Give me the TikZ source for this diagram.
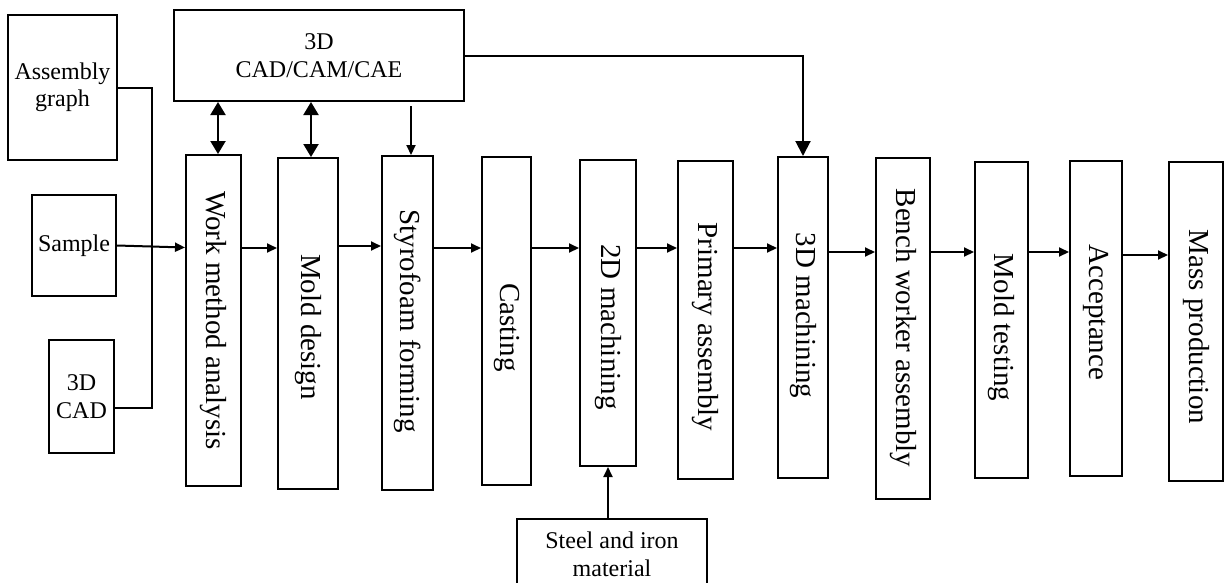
\documentclass[tikz,border=0pt]{standalone}
\usepackage{fontspec}
\setmainfont{Liberation Serif}
\usetikzlibrary{arrows.meta}
\begin{document}
\begin{tikzpicture}[x=1pt,y=-1pt,
  box/.style={draw, line width=2pt, inner sep=0pt, align=center, font=\fontsize{24}{27.5}\selectfont},
  vbox/.style={draw, line width=2pt, inner sep=0pt},
  vtext/.style={inner sep=0pt, font=\fontsize{29}{34}\selectfont},
  conn/.style={line width=2pt},
  arr/.style={line width=2pt, -{Triangle[length=10pt,width=9pt]}},
  bigarr/.style={line width=2pt, -{Triangle[length=15pt,width=15pt]}},
  dblarr/.style={line width=2.2pt, {Triangle[length=13pt,width=15pt]}-{Triangle[length=13pt,width=15pt]}}
]
\path[use as bounding box] (0,0) rectangle (1224,582);
\clip (0,0) rectangle (1224,582);

% left inputs
\node[box, minimum width=109pt, minimum height=145pt] (asm) at (62.5,87.5) {Assembly\\graph};
\node[box, minimum width=84pt, minimum height=101pt] (smp) at (74,245.5) {Sample};
\node[box, minimum width=65pt, minimum height=113pt] (cad) at (81.5,396.5) {3D\\CAD};
\node[box, minimum width=290pt, minimum height=91pt] (cae) at (319,55.5) {3D\\CAD/CAM/CAE};
\node[box, minimum width=190pt, minimum height=71pt] (steel) at (612,554.5) {Steel and iron\\material};

% process steps (boxes)
\node[vbox, minimum width=55pt, minimum height=331pt] (work) at (213.5,320.5) {};
\node[vbox, minimum width=60pt, minimum height=331pt] (mold) at (308,323.5) {};
\node[vbox, minimum width=51pt, minimum height=334pt] (styro) at (407.5,323) {};
\node[vbox, minimum width=49pt, minimum height=328pt] (cast) at (506.5,321) {};
\node[vbox, minimum width=56pt, minimum height=306pt] (m2d) at (608,313) {};
\node[vbox, minimum width=55pt, minimum height=318pt] (prim) at (705.5,320) {};
\node[vbox, minimum width=50pt, minimum height=321pt] (m3d) at (803,317.5) {};
\node[vbox, minimum width=54pt, minimum height=341pt] (bench) at (903,328.5) {};
\node[vbox, minimum width=53pt, minimum height=316pt] (mtest) at (1001.5,320) {};
\node[vbox, minimum width=52pt, minimum height=315pt] (acc) at (1096,318.5) {};
\node[vbox, minimum width=54pt, minimum height=319pt] (mass) at (1196,321.5) {};

% process steps (texts)
\node[vtext] (workt) at (213.5,320.5) {\rotatebox{-90}{Work method analysis}};
\node[vtext] (moldt) at (308,327) {\rotatebox{-90}{Mold design}};
\node[vtext] (styrot) at (407.5,321) {\rotatebox{-90}{Styrofoam forming}};
\node[vtext] (castt) at (506.5,327.5) {\rotatebox{-90}{Casting}};
\node[vtext] (m2dt) at (608,327) {\rotatebox{-90}{2D machining}};
\node[vtext] (primt) at (705.5,327) {\rotatebox{-90}{Primary assembly}};
\node[vtext] (m3dt) at (803,315.5) {\rotatebox{-90}{3D machining}};
\node[vtext] (bencht) at (903,328) {\rotatebox{-90}{Bench worker assembly}};
\node[vtext] (mtestt) at (1001.5,327.5) {\rotatebox{-90}{Mold testing}};
\node[vtext] (acct) at (1096,312.5) {\rotatebox{-90}{Acceptance}};
\node[vtext] (masst) at (1196,327) {\rotatebox{-90}{Mass production}};

% row coordinates
\coordinate (r1) at (0,248);
\coordinate (r2) at (0,246);
\coordinate (r3) at (0,252);
\coordinate (r4) at (0,255);

% left connector (assembly graph / 3D CAD)
\draw[conn] (asm.east) -- ++(34,0) |- ([yshift=-11.5pt]cad.east);
\draw[arr] (smp.east) -- ([yshift=-2pt]smp.east -| work.west);

% main flow
\draw[arr] (work.east |- r1) -- (mold.west |- r1);
\draw[arr] (mold.east |- r2) -- (styro.west |- r2);
\draw[arr] (styro.east |- r1) -- (cast.west |- r1);
\draw[arr] (cast.east |- r1) -- (m2d.west |- r1);
\draw[arr] (m2d.east |- r1) -- (prim.west |- r1);
\draw[arr] (prim.east |- r1) -- (m3d.west |- r1);
\draw[arr] (m3d.east |- r3) -- (bench.west |- r3);
\draw[arr] (bench.east |- r3) -- (mtest.west |- r3);
\draw[arr] (mtest.east |- r3) -- (acc.west |- r3);
\draw[arr] (acc.east |- r4) -- (mass.west |- r4);

% CAD/CAM/CAE links
\draw[dblarr] ([xshift=4.5pt]work.north |- cae.south) -- ([xshift=4.5pt]work.north);
\draw[dblarr] ([xshift=3pt]mold.north |- cae.south) -- ([xshift=3pt]mold.north);
\draw[arr] ([xshift=3.5pt,yshift=-4pt]styro.north |- cae.south) -- ([xshift=3.5pt]styro.north);
\draw[bigarr] (cae.east) -| (m3d.north);

% steel input
\draw[arr] (steel.north -| m2d.south) -- (m2d.south);
\end{tikzpicture}
\end{document}
